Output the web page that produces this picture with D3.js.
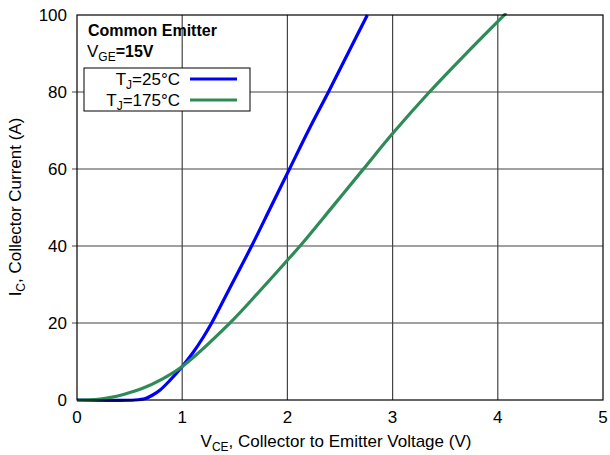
<!DOCTYPE html>
<html lang="en">
<head>
<meta charset="UTF-8">
<title>IGBT output characteristics</title>
<script src="https://cdnjs.cloudflare.com/ajax/libs/d3/7.8.5/d3.min.js"></script>
<style>
  body { margin: 0; background: #fff; }
  text { font-family: "Liberation Sans", Arial, sans-serif; }
</style>
</head>
<body>
<svg id="canvas" width="610" height="455"></svg>
<script>
    // values
    const xTicks = [0, 1, 2, 3, 4, 5];
    const yTicks = [0, 20, 40, 60, 80, 100];
    const vce25 = [0, 0.55, 0.65, 0.72, 0.79, 0.88, 1.0, 1.1, 1.2, 1.28, 1.47, 1.66, 1.84, 2.02, 2.2, 2.39, 2.575, 2.76];
    const ic25 = [0, 0, 0.4, 1.3, 2.6, 5, 8.7, 12.2, 16.3, 20, 30, 40, 50, 60, 70, 80, 90, 100];
    const vce175 = [0, 0.2, 0.31, 0.45, 0.63, 0.8, 1.0, 1.45, 1.75, 2.0, 2.12, 2.42, 2.72, 3.0, 3.35, 3.71, 4.08];
    const ic175 = [0, 0.2, 0.6, 1.5, 3.1, 5.3, 8.7, 19.9, 28.7, 36.3, 40, 49.9, 59.9, 69.2, 80, 90.3, 100.5];
    const seriesNames = ["25°C", "175°C"];
    const seriesColors = ["#0000ff", "#2e8b57"];

    const svg = d3.select('#canvas');
    const pLeft = 77, pRight = 603, pTop = 15, pBottom = 400;
    const fs = 17;

    let x = d3.scaleLinear().domain([0, 5]).range([pLeft, pRight]);
    let y = d3.scaleLinear().domain([0, 100]).range([pBottom, pTop]);

    // grid
    svg.append("g").selectAll("line").data(xTicks.slice(1, -1)).join("line")
        .attr("x1", d => x(d)).attr("x2", d => x(d))
        .attr("y1", pTop).attr("y2", pBottom)
        .attr("stroke", "#444").attr("stroke-width", 1.2);
    svg.append("g").selectAll("line").data(yTicks.slice(1, -1)).join("line")
        .attr("x1", pLeft - 5).attr("x2", pRight)
        .attr("y1", d => y(d)).attr("y2", d => y(d))
        .attr("stroke", "#444").attr("stroke-width", 1.2);

    // tick labels
    svg.append("g").selectAll("text").data(xTicks).join("text")
        .attr("x", d => x(d)).attr("y", pBottom + 23)
        .attr("text-anchor", "middle").attr("font-size", fs)
        .text(d => d);
    svg.append("g").selectAll("text").data(yTicks).join("text")
        .attr("x", pLeft - 10).attr("y", d => y(d) + 6)
        .attr("text-anchor", "end").attr("font-size", fs)
        .text(d => d);

    // curves
    svg.append("clipPath").attr("id", "clip").append("rect")
        .attr("x", pLeft).attr("y", pTop - 2).attr("width", pRight - pLeft).attr("height", pBottom - pTop + 4);
    const line = d3.line().x(d => x(d[0])).y(d => y(d[1])).curve(d3.curveCatmullRom.alpha(0.5));
    const series = [d3.zip(vce25, ic25), d3.zip(vce175, ic175)];
    svg.append("g").attr("clip-path", "url(#clip)").selectAll("path").data(series).join("path")
        .attr("d", line).attr("fill", "none")
        .attr("stroke", (d, i) => seriesColors[i]).attr("stroke-width", 3.2);

    // frame
    svg.append("rect").attr("x", pLeft).attr("y", pTop)
        .attr("width", pRight - pLeft).attr("height", pBottom - pTop)
        .attr("fill", "none").attr("stroke", "#000").attr("stroke-width", 1.2);

    // annotation
    svg.append("text").attr("x", 88).attr("y", 36).attr("font-size", 16)
        .attr("font-weight", "bold").text("Common Emitter");
    let vge = svg.append("text").attr("x", 87).attr("y", 57).attr("font-size", 16).attr("font-weight", "bold");
    vge.append("tspan").attr("font-weight", "normal").attr("font-size", fs).text("V");
    vge.append("tspan").attr("font-size", 12).attr("font-weight", "normal").attr("dy", 4).text("GE");
    vge.append("tspan").attr("dy", -4).text("=15V");

    // legend
    svg.append("rect").attr("x", 84).attr("y", 68).attr("width", 166).attr("height", 43)
        .attr("fill", "#fff").attr("stroke", "#000").attr("stroke-width", 1);
    seriesNames.forEach((name, i) => {
        const ly = 79 + i * 21;
        let t = svg.append("text").attr("x", 180).attr("y", ly + 6)
            .attr("text-anchor", "end").attr("font-size", fs);
        t.append("tspan").text("T");
        t.append("tspan").attr("font-size", 12).attr("dy", 4).text("J");
        t.append("tspan").attr("dy", -4).text("=" + name);
        svg.append("line").attr("x1", 190).attr("x2", 237).attr("y1", ly).attr("y2", ly)
            .attr("stroke", seriesColors[i]).attr("stroke-width", 3.2);
    });

    // axis titles
    let xl = svg.append("text").attr("x", 336).attr("y", 447)
        .attr("text-anchor", "middle").attr("font-size", fs);
    xl.append("tspan").text("V");
    xl.append("tspan").attr("font-size", 12).attr("dy", 4).text("CE");
    xl.append("tspan").attr("dy", -4).text(", Collector to Emitter Voltage (V)");

    let yl = svg.append("text").attr("transform", "translate(21,207) rotate(-90)")
        .attr("text-anchor", "middle").attr("font-size", fs);
    yl.append("tspan").text("I");
    yl.append("tspan").attr("font-size", 12).attr("dy", 4).text("C");
    yl.append("tspan").attr("dy", -4).text(", Collector Current (A)");
</script>
</body>
</html>
